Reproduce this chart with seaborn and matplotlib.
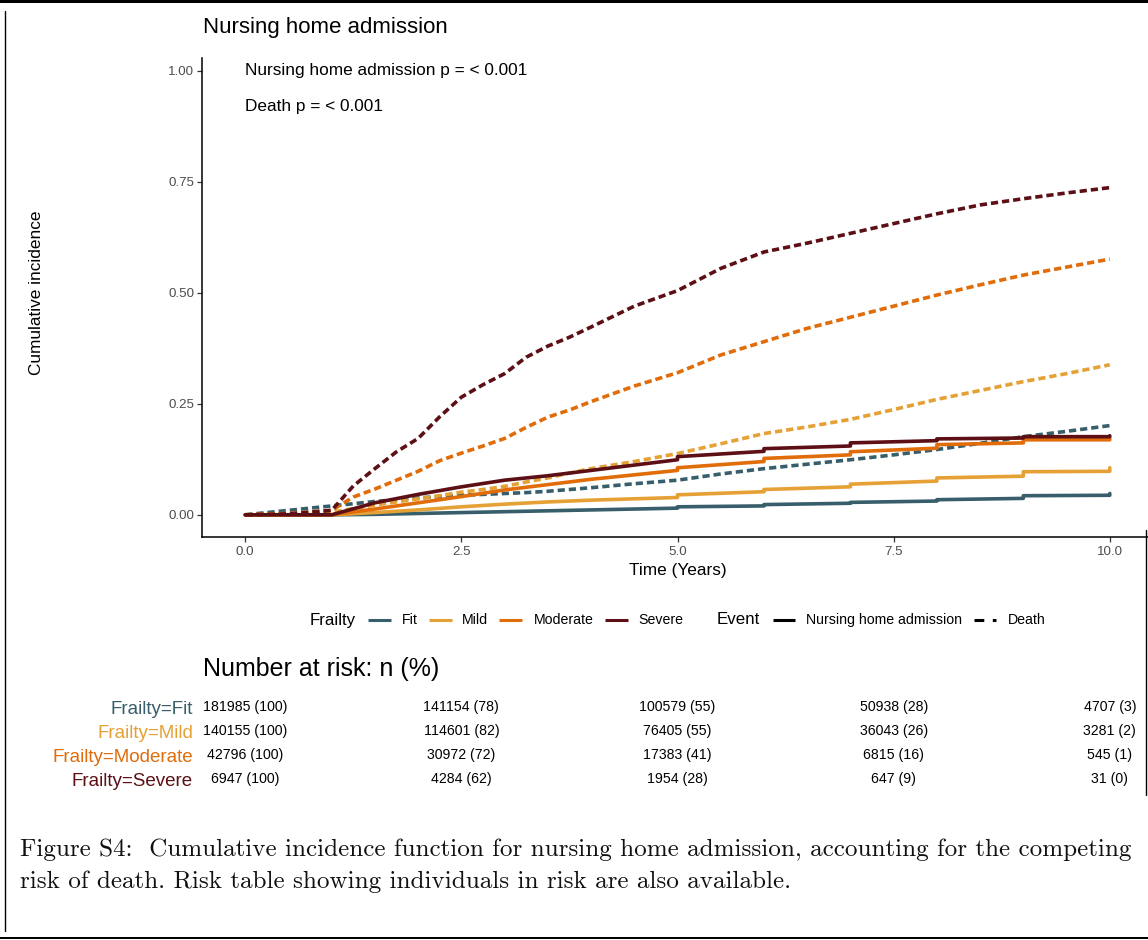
import matplotlib
matplotlib.use("Agg")
import matplotlib.pyplot as plt
import numpy as np
import pandas as pd
import seaborn as sns
from matplotlib.lines import Line2D
from matplotlib.patches import Rectangle

# ---- data -------------------------------------------------------------
frailty_levels = ["Fit", "Mild", "Moderate", "Severe"]
frailty_colors = ["#375E6A", "#E5A135", "#E06C0A", "#5C0F15"]
event_levels = ["Nursing home admission", "Death"]

# cumulative incidence of death (competing event)
death_times = [0, 0.5, 1.0, 1.25, 1.5, 1.75, 2.0, 2.25, 2.5, 2.75, 3.0, 3.25,
               3.5, 3.75, 4.0, 4.5, 5.0, 5.5, 6.0, 6.5, 7.0, 7.5, 8.0, 8.5,
               9.0, 9.5, 10.0]
death_fit = [0, 0.010, 0.020, 0.025, 0.030, 0.034, 0.038, 0.041, 0.044, 0.046,
             0.048, 0.050, 0.053, 0.057, 0.061, 0.070, 0.078, 0.092, 0.104,
             0.114, 0.124, 0.135, 0.147, 0.161, 0.176, 0.188, 0.201]
death_mild = [0, 0.002, 0.006, 0.014, 0.022, 0.029, 0.036, 0.043, 0.051, 0.057,
              0.064, 0.074, 0.083, 0.094, 0.104, 0.120, 0.138, 0.160, 0.183,
              0.198, 0.215, 0.237, 0.260, 0.280, 0.300, 0.318, 0.338]
death_moderate = [0, 0.003, 0.010, 0.040, 0.058, 0.078, 0.098, 0.122, 0.139,
                  0.155, 0.172, 0.197, 0.220, 0.236, 0.255, 0.290, 0.320,
                  0.360, 0.390, 0.420, 0.445, 0.470, 0.495, 0.518, 0.540,
                  0.558, 0.576]
death_severe = [0, 0.002, 0.010, 0.065, 0.104, 0.142, 0.172, 0.221, 0.265,
                0.293, 0.318, 0.355, 0.380, 0.400, 0.423, 0.470, 0.505, 0.555,
                0.592, 0.612, 0.634, 0.656, 0.678, 0.698, 0.712, 0.725, 0.737]

# cumulative incidence of nursing home admission (steps at yearly follow-up)
nh_times = [0, 1, 1.5, 2, 2.5, 3, 3.5, 4, 4.5, 5, 5, 6, 6, 7, 7, 8, 8, 9, 9,
            10, 10]
nh_fit = [0, 0, 0.001, 0.003, 0.005, 0.007, 0.009, 0.011, 0.013, 0.015, 0.018,
          0.020, 0.023, 0.026, 0.028, 0.031, 0.034, 0.037, 0.043, 0.044, 0.048]
nh_mild = [0, 0, 0.005, 0.011, 0.018, 0.024, 0.029, 0.033, 0.036, 0.039,
           0.045, 0.052, 0.057, 0.063, 0.069, 0.076, 0.083, 0.087, 0.097,
           0.098, 0.106]
nh_moderate = [0, 0, 0.013, 0.027, 0.041, 0.056, 0.068, 0.080, 0.090, 0.100,
               0.106, 0.120, 0.127, 0.135, 0.142, 0.150, 0.158, 0.162, 0.169,
               0.169, 0.172]
nh_severe = [0, 0, 0.027, 0.046, 0.063, 0.078, 0.088, 0.100, 0.112, 0.124,
             0.131, 0.143, 0.149, 0.155, 0.162, 0.167, 0.171, 0.173, 0.176,
             0.176, 0.178]

# number at risk
risk_times = [0, 2.5, 5, 7.5, 10]
risk_fit_n = [181985, 141154, 100579, 50938, 4707]
risk_fit_pct = [100, 78, 55, 28, 3]
risk_mild_n = [140155, 114601, 76405, 36043, 3281]
risk_mild_pct = [100, 82, 55, 26, 2]
risk_moderate_n = [42796, 30972, 17383, 6815, 545]
risk_moderate_pct = [100, 72, 41, 16, 1]
risk_severe_n = [6947, 4284, 1954, 647, 31]
risk_severe_pct = [100, 62, 28, 9, 0]

x_ticks = [0.0, 2.5, 5.0, 7.5, 10.0]
y_ticks = [0.00, 0.25, 0.50, 0.75, 1.00]

# ---- long-form table for seaborn -------------------------------------
curves = {
    ("Fit", "Nursing home admission"): (nh_times, nh_fit),
    ("Mild", "Nursing home admission"): (nh_times, nh_mild),
    ("Moderate", "Nursing home admission"): (nh_times, nh_moderate),
    ("Severe", "Nursing home admission"): (nh_times, nh_severe),
    ("Fit", "Death"): (death_times, death_fit),
    ("Mild", "Death"): (death_times, death_mild),
    ("Moderate", "Death"): (death_times, death_moderate),
    ("Severe", "Death"): (death_times, death_severe),
}
rows = []
for (grp, ev), (ts, vs) in curves.items():
    for t, v in zip(ts, vs):
        rows.append({"Frailty": grp, "Event": ev, "time": t, "cif": v})
df = pd.DataFrame(rows)

risk = {
    "Fit": (risk_fit_n, risk_fit_pct),
    "Mild": (risk_mild_n, risk_mild_pct),
    "Moderate": (risk_moderate_n, risk_moderate_pct),
    "Severe": (risk_severe_n, risk_severe_pct),
}

# ---- styling ------------------------------------------------------------
sns.set_theme(style="white")
plt.rcParams["font.family"] = ["Liberation Sans", "DejaVu Sans"]

W, H = 1148, 940
fig = plt.figure(figsize=(W / 100, H / 100), dpi=100)
fig.patch.set_facecolor("white")


def fx(px):
    return px / W


def fy(py):
    return 1 - py / H


palette = dict(zip(frailty_levels, frailty_colors))
LW = 2.6
DASH = (2, 1.1)

# ---- main panel -------------------------------------------------------
ax = fig.add_axes([fx(202), fy(537), (1153 - 202) / W, (537 - 58) / H])
sns.lineplot(data=df, x="time", y="cif", hue="Frailty", style="Event",
             hue_order=frailty_levels, style_order=event_levels,
             palette=palette, dashes={"Nursing home admission": "", "Death": DASH},
             estimator=None, linewidth=LW, legend=False, ax=ax)
ax.set_xlim(-0.5, 10.5)
ax.set_ylim(-0.05, 1.029)
ax.set_xticks(x_ticks)
ax.set_xticklabels([f"{t:.1f}" for t in x_ticks])
ax.set_yticks(y_ticks)
ax.set_yticklabels([f"{v:.2f}" for v in y_ticks])
for side in ("top", "right"):
    ax.spines[side].set_visible(False)
for side in ("left", "bottom"):
    ax.spines[side].set_color("black")
    ax.spines[side].set_linewidth(1.1)
ax.tick_params(axis="both", which="major", length=3.5, width=0.9,
               color="#333333", labelcolor="#4D4D4D", labelsize=9.6,
               direction="out", left=True, bottom=True)
ax.tick_params(axis="y", pad=2.2)
ax.tick_params(axis="x", pad=3.0)
ax.set_xlabel("Time (Years)", fontsize=12.4, color="black")
ax.xaxis.set_label_coords(0.5, (537 - 571) / 479)
ax.xaxis.label.set_va("center")
ax.set_ylabel("Cumulative incidence", fontsize=12.4, color="black")
ax.yaxis.set_label_coords((37 - 202) / 951, (537 - 293) / 479)
ax.yaxis.label.set_va("center")
ax.grid(False)

ax.text(0.0, 1.0, "Nursing home admission p = < 0.001", fontsize=12.4,
        ha="left", va="center", color="black")
ax.text(0.0, 0.919, "Death p = < 0.001", fontsize=12.4,
        ha="left", va="center", color="black")

fig.text(fx(203), fy(27), "Nursing home admission", fontsize=16,
         ha="left", va="center", color="black")

# ---- legend -------------------------------------------------------------
LEG_Y = 620


def key(x0, x1, color, dashed=False):
    ln = Line2D([fx(x0), fx(x1)], [fy(LEG_Y), fy(LEG_Y)],
                transform=fig.transFigure, color=color, linewidth=2.2,
                solid_capstyle="butt", dash_capstyle="butt")
    if dashed:
        ln.set_dashes((3.2, 2.8))
    fig.add_artist(ln)


def leg_text(x, s, size=10.2):
    fig.text(fx(x), fy(LEG_Y), s, fontsize=size, ha="left", va="center",
             color="black")


leg_text(310, "Frailty", 12.2)
leg_keys = [(368, 391, 402), (429, 452, 462), (499, 522, 534), (605, 628, 638)]
for (k0, k1, tx), lvl, col in zip(leg_keys, frailty_levels, frailty_colors):
    key(k0, k1, col)
    leg_text(tx, lvl)
leg_text(717, "Event", 12.2)
key(773, 795, "black")
leg_text(806, "Nursing home admission")
key(974, 996, "black", dashed=True)
leg_text(1008, "Death")

# ---- risk table -----------------------------------------------------------
fig.text(fx(203), fy(669), "Number at risk: n (%)", fontsize=18,
         ha="left", va="center", color="black")
tab = fig.add_axes([fx(202), fy(791), (1153 - 202) / W, 96 / H])
tab.set_xlim(-0.5, 10.5)
tab.set_ylim(3.5, -0.5)
for i, lvl in enumerate(frailty_levels):
    ns, ps = risk[lvl]
    for t, n, p in zip(risk_times, ns, ps):
        tab.text(t, i, f"{n} ({p})", fontsize=10.2, ha="center", va="center",
                 color="black")
tab.set_yticks(range(len(frailty_levels)))
tab.set_yticklabels([f"Frailty={lvl}" for lvl in frailty_levels],
                    fontsize=13.5)
for lab, col in zip(tab.get_yticklabels(), frailty_colors):
    lab.set_color(col)
tab.tick_params(axis="y", length=0, pad=6.5)
tab.set_xticks([])
for s in tab.spines.values():
    s.set_visible(False)
tab.patch.set_alpha(0)

# ---- caption ------------------------------------------------------------
cap_lines = [
    "Figure S4:  Cumulative incidence function for nursing home admission, "
    "accounting for the competing",
    "risk of death. Risk table showing individuals in risk are also available.",
]
cap1 = fig.text(fx(20), fy(850), cap_lines[0], fontfamily="cmr10",
                fontsize=16, ha="left", va="center", color="#111111")
fig.canvas.draw()
w1 = cap1.get_window_extent().width
cap_size = 16 * (1108 / w1)
cap1.set_fontsize(cap_size)
fig.text(fx(20), fy(882), cap_lines[1], fontfamily="cmr10",
         fontsize=cap_size, ha="left", va="center", color="#111111")

# ---- page frame -----------------------------------------------------------
fig.add_artist(Rectangle((0, fy(3)), 1, 3 / H, transform=fig.transFigure,
                         facecolor="black", edgecolor="none"))
fig.add_artist(Rectangle((0, fy(939)), 1, 2 / H, transform=fig.transFigure,
                         facecolor="black", edgecolor="none"))
fig.add_artist(Line2D([fx(5), fx(5)], [fy(11), fy(931)],
                      transform=fig.transFigure, color="black", linewidth=1.0))
fig.add_artist(Line2D([fx(1146), fx(1146)], [fy(530), fy(795)],
                      transform=fig.transFigure, color="black", linewidth=1.0))

fig.savefig("out.png", dpi=100, facecolor="white")
